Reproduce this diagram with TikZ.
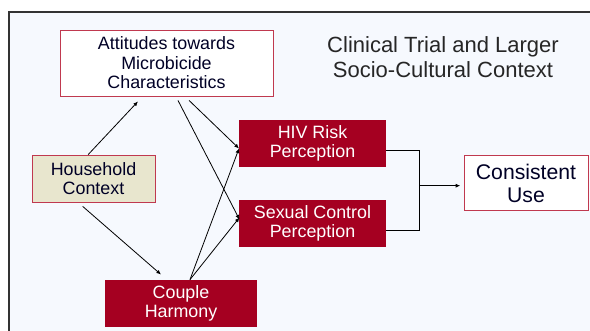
\documentclass[tikz,border=0pt]{standalone}
\usepackage{fontspec}
\setmainfont{Liberation Sans}
\usetikzlibrary{arrows.meta}
\definecolor{bgblue}{RGB}{246,249,254}
\definecolor{boxred}{RGB}{165,0,33}
\definecolor{edgered}{RGB}{192,57,79}
\definecolor{beige}{RGB}{232,230,206}
\begin{document}
\begin{tikzpicture}[x=.75pt,y=-.75pt,line width=.6pt,
  lbox/.style={draw=edgered,fill=white,align=center,inner sep=0pt,
    font=\fontsize{13.4}{14.6}\selectfont,text=black!85!blue},
  dbox/.style={fill=boxred,text=white,align=center,inner sep=0pt,
    minimum width=110.25pt,minimum height=35.25pt,
    font=\fontsize{13.4}{14.6}\selectfont},
  arr/.style={-{Latex[length=3.5pt,width=3pt]}}]
 \useasboundingbox (0,0) rectangle (590,331);
 \fill[bgblue] (9,12) rectangle (590,331);
 \draw[line width=.9pt,black!80] (9,331)--(9,12)--(590,12);
 \node[lbox,minimum width=159.75pt,minimum height=49.5pt] (att) at (166.5,63)
   {Attitudes towards\\Microbicide\\Characteristics};
 \node[lbox,fill=beige,minimum width=92.25pt,minimum height=35.25pt] (house) at (93.5,178.5)
   {Household\\Context};
 \node[dbox,minimum width=114pt] (couple) at (181,303.5) {Couple\\Harmony};
 \node[dbox] (hiv) at (312.5,143.5) {HIV Risk\\Perception};
 \node[dbox] (sex) at (312.5,223.3) {Sexual Control\\Perception};
 \node[lbox,minimum width=93pt,minimum height=41.25pt,
   font=\fontsize{15.9}{16.8}\selectfont] (use) at (526,183.3) {Consistent\\Use};
 \node[align=center,font=\fontsize{16.5}{18.8}\selectfont,text=black!85] (title) at (443,57)
   {Clinical Trial and Larger\\Socio-Cultural Context};
 \coordinate (hivin) at (239,148.5);
 \coordinate (sexin) at (239.5,219.5);
 \coordinate (join) at (419,185.7);
 \draw[arr] ([xshift=-4pt]house.north) -- ([xshift=-21.4pt,yshift=-3.8pt]att.south);
 \draw[arr] ([xshift=8.6pt,yshift=-3pt]att.south) -- (sexin);
 \draw[arr] ([xshift=16.9pt,yshift=-3pt]att.south) -- (hivin);
 \draw[arr] ([xshift=-8.1pt,yshift=-3pt]house.south) -- ([xshift=-15pt,yshift=3.8pt]couple.north);
 \draw[arr] ([xshift=6.75pt]couple.north) -- (hivin);
 \draw[arr] ([xshift=6.75pt]couple.north) -- ([yshift=1.5pt]sexin);
 \draw ([yshift=-5pt]hiv.east) -| (join);
 \draw ([yshift=-5.5pt]sex.east) -| (join);
 \draw[arr] (join) -- ([xshift=-2.5pt]use.west |- join);
\end{tikzpicture}
\end{document}
